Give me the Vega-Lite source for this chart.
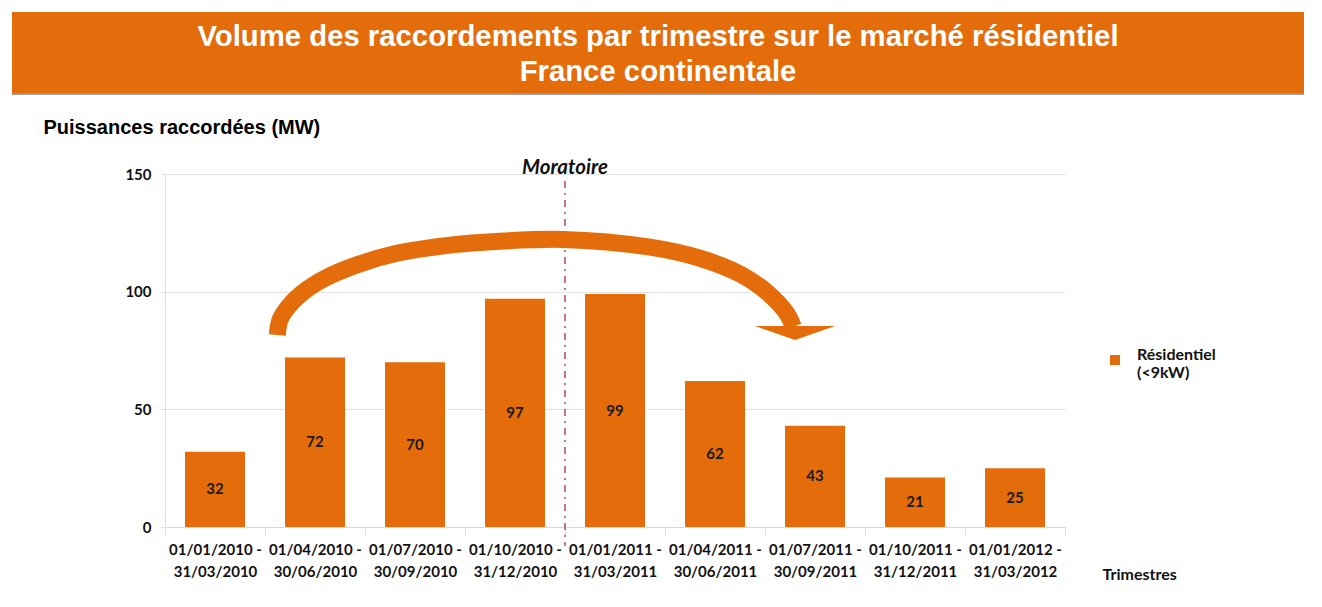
{
  "$schema": "https://vega.github.io/schema/vega-lite/v6.json",
  "padding": {"left": 12, "top": 12, "right": 0, "bottom": 0},
  "config": {"view": {"stroke": null}, "font": "Lato"},
  "datasets": {
    "raccordements": [
      {"trimestre": "01/01/2010 - 31/03/2010", "value": 32, "serie": "Résidentiel (<9kW)"},
      {"trimestre": "01/04/2010 - 30/06/2010", "value": 72, "serie": "Résidentiel (<9kW)"},
      {"trimestre": "01/07/2010 - 30/09/2010", "value": 70, "serie": "Résidentiel (<9kW)"},
      {"trimestre": "01/10/2010 - 31/12/2010", "value": 97, "serie": "Résidentiel (<9kW)"},
      {"trimestre": "01/01/2011 - 31/03/2011", "value": 99, "serie": "Résidentiel (<9kW)"},
      {"trimestre": "01/04/2011 - 30/06/2011", "value": 62, "serie": "Résidentiel (<9kW)"},
      {"trimestre": "01/07/2011 - 30/09/2011", "value": 43, "serie": "Résidentiel (<9kW)"},
      {"trimestre": "01/10/2011 - 31/12/2011", "value": 21, "serie": "Résidentiel (<9kW)"},
      {"trimestre": "01/01/2012 - 31/03/2012", "value": 25, "serie": "Résidentiel (<9kW)"}
    ],
    "fleche": [
      {"k": 1, "u": 1.123, "value": 81.6},
      {"k": 2, "u": 1.15, "value": 88.0},
      {"k": 3, "u": 1.233, "value": 93.6},
      {"k": 4, "u": 1.367, "value": 99.3},
      {"k": 5, "u": 1.60, "value": 105.7},
      {"k": 6, "u": 1.933, "value": 111.6},
      {"k": 7, "u": 2.317, "value": 116.3},
      {"k": 8, "u": 2.85, "value": 119.8},
      {"k": 9, "u": 3.15, "value": 120.9},
      {"k": 10, "u": 3.98, "value": 122.2},
      {"k": 11, "u": 4.85, "value": 118.9},
      {"k": 12, "u": 5.35, "value": 114.2},
      {"k": 13, "u": 5.75, "value": 107.5},
      {"k": 14, "u": 6.033, "value": 99.3},
      {"k": 15, "u": 6.217, "value": 90.8},
      {"k": 16, "u": 6.283, "value": 85.1}
    ],
    "pointe": [
      {"u": 6.30, "value": 82.4}
    ]
  },
  "spacing": 22,
  "vconcat": [
    {
      "spacing": 0,
      "vconcat": [
        {
          "width": 1292,
          "height": 81,
          "view": {"fill": "#E46C0A", "stroke": null},
          "data": {"values": [{}]},
          "mark": {
            "type": "text",
            "text": ["Volume des raccordements par trimestre sur le marché résidentiel", "France continentale"],
            "font": "Liberation Sans",
            "fontSize": 29.3,
            "fontWeight": "bold",
            "color": "white",
            "lineHeight": 35,
            "align": "center",
            "baseline": "middle",
            "dy": -15.5
          }
        },
        {
          "width": 1292,
          "height": 2,
          "view": {"fill": "#9C9C9C", "stroke": null},
          "data": {"values": []},
          "mark": {"type": "point"}
        }
      ]
    },
    {
      "spacing": 30,
      "hconcat": [
        {
          "width": 1,
          "height": 1,
          "view": {"fill": "white", "stroke": null},
          "data": {"values": []},
          "mark": {"type": "point"}
        },
        {
          "width": 900,
          "height": 353,
          "resolve": {"scale": {"x": "independent"}},
          "layer": [
            {
              "layer": [
                {
                  "data": {"name": "raccordements"},
                  "mark": {"type": "bar", "width": {"band": 0.6}},
                  "encoding": {
                    "x": {
                      "field": "trimestre",
                      "type": "nominal",
                      "sort": null,
                      "scale": {
                        "domain": ["01/01/2010 - 31/03/2010", "01/04/2010 - 30/06/2010", "01/07/2010 - 30/09/2010", "01/10/2010 - 31/12/2010", "01/01/2011 - 31/03/2011", "01/04/2011 - 30/06/2011", "01/07/2011 - 30/09/2011", "01/10/2011 - 31/12/2011", "01/01/2012 - 31/03/2012"],
                        "paddingInner": 0,
                        "paddingOuter": 0
                      },
                      "axis": {
                        "title": "Trimestres",
                        "titleX": 937,
                        "titleY": 47,
                        "titleAlign": "left",
                        "titleBaseline": "middle",
                        "titleFont": "Lato",
                        "titleFontSize": 16,
                        "titleFontWeight": "bold",
                        "titleColor": "#111111",
                        "labelAngle": 0,
                        "labelExpr": "[slice(datum.label, 0, 12), slice(datum.label, 13)]",
                        "labelFont": "Lato",
                        "labelFontSize": 15,
                        "labelFontWeight": "bold",
                        "labelColor": "#111111",
                        "labelLineHeight": 22,
                        "labelPadding": 7,
                        "labelBaseline": "top",
                        "tickBand": "extent",
                        "tickSize": 8,
                        "tickColor": "#D9D9D9",
                        "domainColor": "#D9D9D9",
                        "grid": false
                      }
                    },
                    "y": {
                      "field": "value",
                      "type": "quantitative",
                      "scale": {"domain": [0, 150], "nice": false, "zero": false},
                      "axis": {
                        "title": "Puissances raccordées (MW)",
                        "titleAngle": 0,
                        "titleAlign": "left",
                        "titleBaseline": "alphabetic",
                        "titleX": -122,
                        "titleY": -41,
                        "titleFont": "Liberation Sans",
                        "titleFontSize": 20,
                        "titleFontWeight": "bold",
                        "titleColor": "#000000",
                        "values": [0, 50, 100, 150],
                        "labelFont": "Lato",
                        "labelFontSize": 15,
                        "labelFontWeight": "bold",
                        "labelColor": "#111111",
                        "labelPadding": 10,
                        "tickSize": 4,
                        "tickColor": "#DDDDDD",
                        "domainColor": "#DDDDDD",
                        "gridColor": "#E3E3E3"
                      }
                    },
                    "color": {
                      "field": "serie",
                      "type": "nominal",
                      "scale": {"range": ["#E46C0A"]},
                      "legend": {
                        "title": null,
                        "orient": "none",
                        "legendX": 1095,
                        "legendY": 340,
                        "labelExpr": "split(datum.label, ' ')",
                        "labelFont": "Lato",
                        "labelFontSize": 16,
                        "labelFontWeight": "bold",
                        "labelColor": "#111111",
                        "labelLineHeight": 23,
                        "labelBaseline": "alphabetic",
                        "labelOffset": 14,
                        "symbolType": "square",
                        "symbolSize": 100,
                        "symbolStrokeWidth": 0
                      }
                    }
                  }
                },
                {
                  "data": {"name": "raccordements"},
                  "mark": {"type": "text", "font": "Lato", "fontSize": 15, "fontWeight": "bold", "color": "#1A1A1A", "baseline": "middle"},
                  "encoding": {
                    "x": {"field": "trimestre", "type": "nominal", "sort": null},
                    "y": {"field": "value", "type": "quantitative", "stack": "zero", "bandPosition": 0.5, "scale": {"domain": [0, 150], "nice": false, "zero": false}},
                    "text": {"field": "value", "type": "quantitative"}
                  }
                },
                {
                  "data": {"values": [{}]},
                  "mark": {"type": "rule", "color": "#B5475A", "strokeWidth": 1.5, "strokeDash": [7, 5, 2, 5]},
                  "encoding": {
                    "x": {"datum": "01/01/2011 - 31/03/2011", "bandPosition": 0},
                    "y": {"datum": 147, "type": "quantitative", "scale": {"domain": [0, 150], "nice": false, "zero": false}},
                    "y2": {"datum": -8}
                  }
                },
                {
                  "data": {"values": [{}]},
                  "mark": {"type": "text", "text": "Moratoire", "font": "Lato", "fontSize": 20.5, "fontWeight": "bold", "fontStyle": "italic", "color": "#111111", "baseline": "alphabetic", "dy": 0},
                  "encoding": {
                    "x": {"datum": "01/01/2011 - 31/03/2011", "bandPosition": 0},
                    "y": {"datum": 150, "type": "quantitative", "scale": {"domain": [0, 150], "nice": false, "zero": false}}
                  }
                }
              ]
            },
            {
              "layer": [
                {
                  "data": {"name": "fleche"},
                  "mark": {"type": "line", "interpolate": "catmull-rom", "strokeWidth": 17, "strokeCap": "butt", "color": "#E46C0A"},
                  "encoding": {
                    "x": {"field": "u", "type": "quantitative", "scale": {"domain": [0, 9]}, "axis": null},
                    "y": {"field": "value", "type": "quantitative", "scale": {"domain": [0, 150], "nice": false, "zero": false}},
                    "order": {"field": "k"}
                  }
                },
                {
                  "data": {"name": "pointe"},
                  "mark": {"type": "point", "shape": "M-1,-0.175L1,-0.175L0,0.175Z", "size": 6400, "filled": true, "opacity": 1, "color": "#E46C0A", "strokeWidth": 0},
                  "encoding": {
                    "x": {"field": "u", "type": "quantitative", "scale": {"domain": [0, 9]}, "axis": null},
                    "y": {"field": "value", "type": "quantitative", "scale": {"domain": [0, 150], "nice": false, "zero": false}}
                  }
                }
              ]
            }
          ]
        }
      ]
    }
  ]
}
